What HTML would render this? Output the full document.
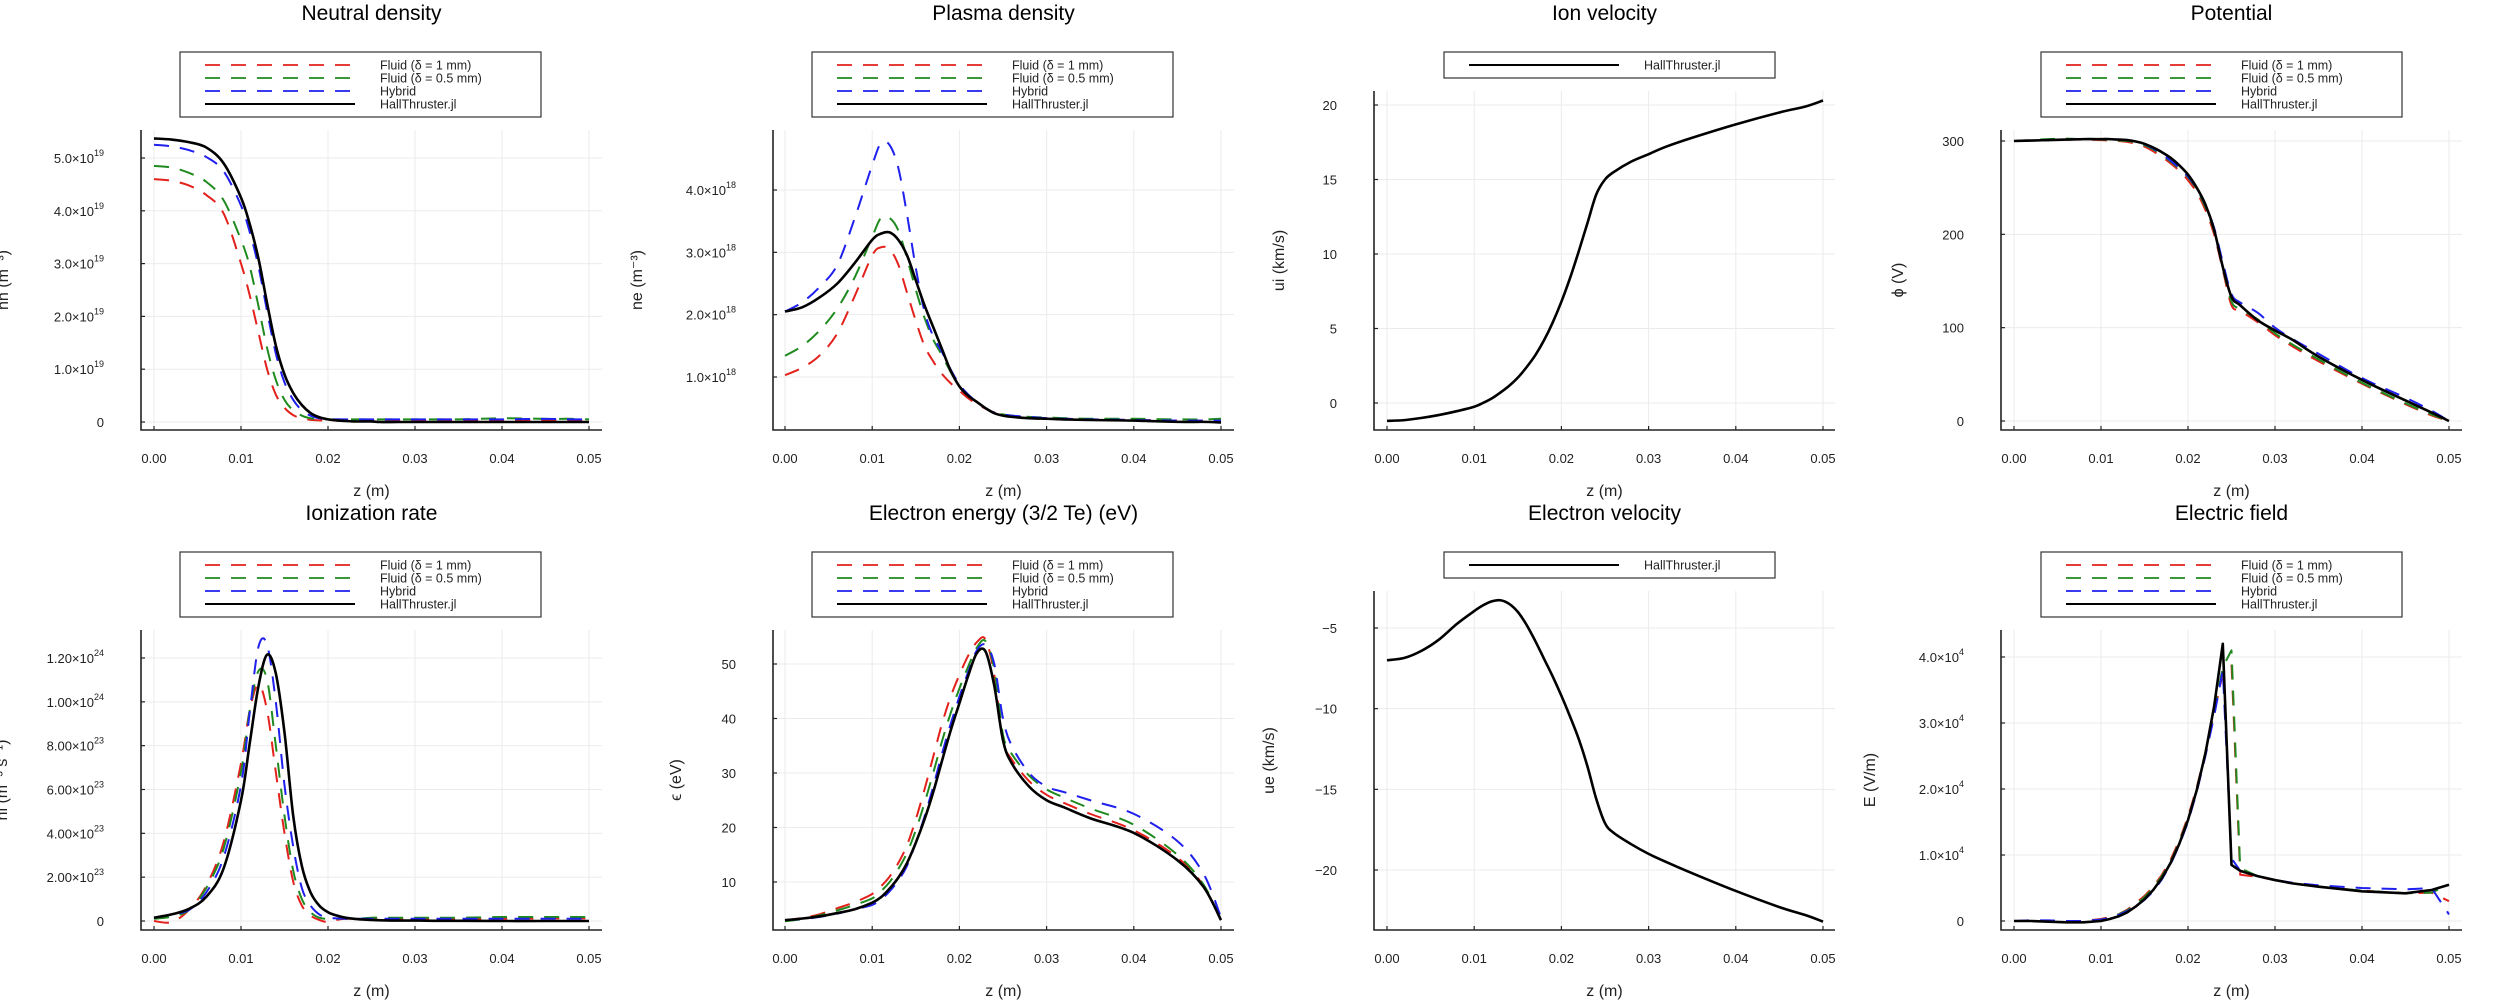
<!DOCTYPE html>
<html><head><meta charset="utf-8"><style>
html,body{margin:0;padding:0;background:#fff;}
svg{display:block;font-family:"Liberation Sans","DejaVu Sans",sans-serif;}
</style></head>
<body>
<svg id="fig" width="2500" height="1000" viewBox="0 0 2500 1000" xmlns="http://www.w3.org/2000/svg"></svg>
<script>
// ---- shared data ----
const zGrid = [0,0.002,0.004,0.006,0.008,0.01,0.011,0.012,0.013,0.014,0.015,0.016,0.017,0.018,0.019,0.02,0.021,0.022,0.023,0.024,0.025,0.026,0.028,0.03,0.032,0.035,0.04,0.045,0.048,0.05];
const xTicks = [0,0.01,0.02,0.03,0.04,0.05];
const xTickLabels = ["0.00","0.01","0.02","0.03","0.04","0.05"];
const seriesNames = ["Fluid (δ = 1 mm)","Fluid (δ = 0.5 mm)","Hybrid","HallThruster.jl"];

// Neutral density (x1e19)
const nnRed   = [4.6,4.57,4.48,4.3,3.95,3.0,2.4,1.7,1.0,0.52,0.27,0.13,0.07,0.04,0.03,0.03,0.03,0.03,0.03,0.03,0.03,0.03,0.03,0.03,0.03,0.03,0.03,0.03,0.03,0.03];
const nnGreen = [4.85,4.82,4.72,4.55,4.2,3.45,2.95,2.2,1.4,0.8,0.42,0.22,0.12,0.07,0.05,0.05,0.05,0.05,0.05,0.05,0.05,0.05,0.05,0.05,0.05,0.05,0.07,0.06,0.06,0.05];
const nnBlue  = [5.25,5.22,5.15,5.02,4.75,4.1,3.6,2.95,2.1,1.3,0.75,0.42,0.22,0.12,0.07,0.05,0.05,0.05,0.05,0.05,0.05,0.05,0.05,0.05,0.05,0.05,0.05,0.06,0.05,0.05];
const nnBlack = [5.37,5.35,5.3,5.2,4.9,4.25,3.75,3.1,2.25,1.45,0.9,0.55,0.32,0.17,0.09,0.05,0.03,0.02,0.01,0.01,0.01,0,0,0,0,0,0,0,0,0];
const nnTicks = [0,1,2,3,4,5];
const nnTickLabels = [["0",""],["1.0×10","19"],["2.0×10","19"],["3.0×10","19"],["4.0×10","19"],["5.0×10","19"]];

// Plasma density (x1e18)
const neRed   = [1.03,1.15,1.35,1.7,2.3,2.95,3.08,3.05,2.8,2.35,1.9,1.5,1.25,1.05,0.9,0.78,0.66,0.57,0.49,0.43,0.39,0.37,0.35,0.34,0.33,0.32,0.31,0.3,0.3,0.3];
const neGreen = [1.34,1.5,1.75,2.1,2.6,3.25,3.55,3.55,3.35,2.9,2.4,1.95,1.6,1.35,1.08,0.85,0.7,0.6,0.5,0.43,0.4,0.38,0.36,0.35,0.34,0.33,0.33,0.32,0.32,0.33];
const neBlue  = [2.05,2.2,2.45,2.8,3.55,4.4,4.75,4.72,4.35,3.6,2.75,2.05,1.65,1.4,1.12,0.88,0.72,0.6,0.5,0.43,0.4,0.38,0.36,0.34,0.33,0.32,0.31,0.3,0.3,0.3];
const neBlack = [2.05,2.12,2.28,2.5,2.83,3.2,3.3,3.32,3.2,2.95,2.55,2.15,1.8,1.45,1.1,0.85,0.7,0.6,0.5,0.42,0.38,0.36,0.34,0.33,0.32,0.31,0.3,0.28,0.28,0.27];
const neTicks = [1,2,3,4];
const neTickLabels = [["1.0×10","18"],["2.0×10","18"],["3.0×10","18"],["4.0×10","18"]];

// Ion velocity (km/s)
const uiBlack = [-1.2,-1.15,-1.0,-0.8,-0.55,-0.25,0,0.3,0.7,1.15,1.7,2.4,3.2,4.2,5.4,6.8,8.4,10.2,12.1,14.0,15.0,15.5,16.2,16.7,17.2,17.8,18.7,19.5,19.9,20.3];
const uiTicks = [0,5,10,15,20];
const uiTickLabels = [["0",""],["5",""],["10",""],["15",""],["20",""]];

// Potential (V)
const phiRed   = [300,300.5,301,301.5,301.5,301,300.5,300,299,297,294,289,283,276,268,258,245,226,200,162,124,118,106,92,80,64,40,18,6,0];
const phiGreen = [300,301,302,302.5,302,301.5,301,300.5,300,298.5,295.5,291,285,278,270,261,248,229,203,164,128,120,109,94,82,66,41,19,7,0];
const phiBlue  = [300,300.5,301,301.5,302,302,302,301.5,301,299.5,296.5,292,286,279,271,262,249,231,207,170,136,127,116,100,88,72,46,25,11,0];
const phiBlack = [300,300.5,301,301.5,302,302,302,301.5,301,299.5,297,293,288,282,274,264,250,232,205,165,133,124,108,97,87,69,44,22,9,0];
const phiTicks = [0,100,200,300];
const phiTickLabels = [["0",""],["100",""],["200",""],["300",""]];

// Ionization rate (x1e23)
const izRed   = [0.0,-0.05,0.5,1.6,3.6,7.2,9.6,10.8,9.6,6.8,4.0,1.8,0.7,0.25,0.05,-0.05,0.05,0.1,0.1,0.1,0.1,0.1,0.1,0.1,0.1,0.1,0.1,0.12,0.12,0.12];
const izGreen = [0.1,0.2,0.5,1.5,3.3,6.8,9.6,11.4,11.0,8.0,4.8,2.3,1.0,0.4,0.15,0.1,0.1,0.12,0.12,0.12,0.15,0.15,0.15,0.15,0.15,0.15,0.18,0.18,0.18,0.18];
const izBlue  = [0.15,0.3,0.5,1.3,2.9,6.2,9.5,12.5,12.6,10.0,6.2,3.4,1.5,0.7,0.3,0.15,0.12,0.1,0.1,0.1,0.1,0.1,0.1,0.1,0.1,0.1,0.1,0.1,0.1,0.1];
const izBlack = [0.15,0.3,0.55,1.1,2.4,5.5,8.1,10.7,12.15,11.3,8.6,4.8,2.5,1.3,0.7,0.4,0.25,0.15,0.1,0.07,0.05,0.03,0.02,0.02,0.01,0.01,0,0,0,0];
const izTicks = [0,2,4,6,8,10,12];
const izTickLabels = [["0",""],["2.00×10","23"],["4.00×10","23"],["6.00×10","23"],["8.00×10","23"],["1.00×10","24"],["1.20×10","24"]];

// Electron energy (eV)
const epRed   = [3.0,3.4,4.1,5.2,6.3,7.8,9.2,11.0,13.5,16.8,21.5,27,33,39,44,48,51.5,54,54.5,48,36,32.5,28.5,26,24.5,22.5,19.5,14.5,9.3,3];
const epGreen = [2.8,3.2,3.9,4.8,5.8,7.0,8.3,10.0,12.4,15.4,19.5,24.5,30,35.8,41,45.5,49.5,53,54.2,49,37,33.5,29.5,27,25.5,23.5,20.5,15,9.5,3];
const epBlue  = [3.0,3.2,3.6,4.2,5.0,5.8,6.8,8.3,10.3,13.0,17.2,22.0,27.5,33.5,39,44,48.5,52.5,53.5,50,40,35,30,27.5,26.5,25,22.5,17.5,11.5,3.5];
const epBlack = [3.0,3.3,3.7,4.3,5.0,6.2,7.2,8.8,10.8,13.5,17.2,21.5,26.5,32.2,37.8,42.8,47.8,52.0,52.3,46,36,31.8,27.5,25,23.7,21.7,19,14,9.1,3];
const epTicks = [10,20,30,40,50];
const epTickLabels = [["10",""],["20",""],["30",""],["40",""],["50",""]];

// Electron velocity (km/s)
const ueBlack = [-7.0,-6.85,-6.4,-5.7,-4.75,-3.95,-3.6,-3.35,-3.28,-3.5,-4.0,-4.8,-5.8,-6.9,-8.0,-9.2,-10.5,-11.9,-13.6,-15.6,-17.1,-17.7,-18.4,-19.0,-19.5,-20.2,-21.3,-22.3,-22.8,-23.2];
const ueTicks = [-20,-15,-10,-5];
const ueTickLabels = [["−20",""],["−15",""],["−10",""],["−5",""]];

// Electric field (x1e4 V/m)
const efRed   = [0,0,0,0,0,0.03,0.06,0.1,0.17,0.27,0.38,0.52,0.7,0.93,1.22,1.58,2.02,2.55,3.15,3.75,3.9,0.7,0.67,0.62,0.57,0.52,0.46,0.42,0.43,0.3];
const efGreen = [0,0,0,0,0,0.02,0.05,0.1,0.16,0.25,0.36,0.5,0.68,0.9,1.2,1.55,2.0,2.55,3.15,3.85,4.1,0.8,0.68,0.62,0.57,0.52,0.46,0.42,0.43,0.55];
const efBlue  = [0,0.01,0.01,0,0,0.02,0.05,0.09,0.15,0.22,0.32,0.45,0.63,0.86,1.15,1.5,1.95,2.5,3.1,3.8,0.95,0.76,0.68,0.62,0.58,0.54,0.5,0.48,0.5,0.1];
const efBlack = [0,0,-0.01,-0.02,-0.02,0,0.03,0.07,0.13,0.22,0.33,0.47,0.65,0.88,1.17,1.53,1.98,2.54,3.25,4.2,0.85,0.76,0.68,0.62,0.57,0.52,0.45,0.42,0.47,0.55];
const efTicks = [0,1,2,3,4];
const efTickLabels = [["0",""],["1.0×10","4"],["2.0×10","4"],["3.0×10","4"],["4.0×10","4"]];

// ---- drawing ----
const NS = "http://www.w3.org/2000/svg";
const fig = document.getElementById("fig");
const COLORS = ["#e3211c","#1f8a1f","#1f1fee","#000000"];
function mk(tag, attrs, parent){
  const e = document.createElementNS(NS, tag);
  for (const k in attrs) e.setAttribute(k, attrs[k]);
  (parent||fig).appendChild(e);
  return e;
}
function pathD(pts, smooth){
  let d = "M" + pts[0][0].toFixed(2) + "," + pts[0][1].toFixed(2);
  for (let i=1;i<pts.length;i++){
    if (!smooth){ d += "L" + pts[i][0].toFixed(2) + "," + pts[i][1].toFixed(2); continue; }
    const p0 = pts[Math.max(0,i-2)], p1 = pts[i-1], p2 = pts[i], p3 = pts[Math.min(pts.length-1,i+1)];
    const t = 1/6;
    const c1 = [p1[0]+(p2[0]-p0[0])*t, p1[1]+(p2[1]-p0[1])*t];
    const c2 = [p2[0]-(p3[0]-p1[0])*t, p2[1]-(p3[1]-p1[1])*t];
    d += "C"+c1[0].toFixed(2)+","+c1[1].toFixed(2)+" "+c2[0].toFixed(2)+","+c2[1].toFixed(2)+" "+p2[0].toFixed(2)+","+p2[1].toFixed(2);
  }
  return d;
}

function panel(cfg){
  const g = mk("g", {});
  
  
  const X = z => cfg.x0 + (z - 0) / 0.05 * (cfg.x1 - cfg.x0);
  const Y = v => cfg.ya + (v - cfg.va) / (cfg.vb - cfg.va) * (cfg.yb - cfg.ya);
  const L = cfg.axL, R = cfg.axL + 461, T = cfg.top, B = cfg.oy + 430;
  xTicks.forEach(t => {
    const l = mk("line", {x1:X(t), x2:X(t), y1:T, y2:B, stroke:"#ebebeb", "stroke-width":1}, g);
    
    
  });
  cfg.yTicks.forEach(t => {
    const l = mk("line", {x1:L, x2:R, y1:Y(t), y2:Y(t), stroke:"#ebebeb", "stroke-width":1}, g);
    
    
  });
  cfg.series.forEach((s, i) => {
    const pts = zGrid.map((z, k) => [X(z), Y(s.v[k])]);
    const p = mk("path", {d: pathD(pts, !cfg.linear), fill:"none", stroke:s.c, "stroke-width": s.dash ? 2 : 2.6,
      "stroke-dasharray": s.dash ? "15 11" : "none", "stroke-linejoin":"round"}, g);
    
    
  });
  const ax = mk("path", {d:`M${L},${T}L${L},${B}L${R},${B}`, fill:"none", stroke:"#222", "stroke-width":1.6}, g);
  
  
  xTicks.forEach((t, i) => {
    mk("line", {x1:X(t), x2:X(t), y1:B, y2:B-4, stroke:"#222", "stroke-width":1.2}, g);
    const tx = mk("text", {x:X(t), y:cfg.oy+463, "text-anchor":"middle", "font-size":13, fill:"#222"}, g);
    tx.textContent = xTickLabels[i];
    
    
  });
  cfg.yTicks.forEach((t, i) => {
    mk("line", {x1:L, x2:L+4, y1:Y(t), y2:Y(t), stroke:"#222", "stroke-width":1.2}, g);
    const tx = mk("text", {x:L-37, y:Y(t)+5, "text-anchor":"end", "font-size":13, fill:"#222"}, g);
    
    
    const a = mk("tspan", {}, tx); a.textContent = cfg.yLabels[i][0];
    if (cfg.yLabels[i][1]) { const b = mk("tspan", {"font-size":9, dy:-7}, tx); b.textContent = cfg.yLabels[i][1]; }
  });
  const cx = (L + R) / 2;
  const ti = mk("text", {x:cx, y:cfg.oy+20, "text-anchor":"middle", "font-size":21, fill:"#000"}, g);
  ti.textContent = cfg.title;
  
  
  const xl = mk("text", {x:cx, y:cfg.oy+496, "text-anchor":"middle", "font-size":16, fill:"#222"}, g);
  xl.textContent = "z (m)";
  
  
  const yc = (T + B) / 2;
  const yl = mk("text", {x:cfg.ylx, y:yc, "text-anchor":"middle", "font-size":16, fill:"#222", transform:`rotate(-90 ${cfg.ylx} ${yc})`, dy:6}, g);
  yl.textContent = cfg.ylabel;
  
  
  const lx = cfg.legX, ly = cfg.oy + 52, n = cfg.series.length;
  const lg = mk("g", {}, g);
  
  
  mk("rect", {x:lx, y:ly, width:n>1?361:331, height:n>1?65:26, fill:"#fff", stroke:"#333", "stroke-width":1.2}, lg);
  cfg.series.forEach((s, i) => {
    const ry = ly + 13 + i * 13;
    mk("line", {x1:lx+25, x2:lx+175, y1:ry, y2:ry, stroke:s.c, "stroke-width":s.dash?1.8:2, "stroke-dasharray":s.dash?"15 11":"none"}, lg);
    const t = mk("text", {x:lx+200, y:ry+4.5, "font-size":12.5, fill:"#222"}, lg);
    t.textContent = s.label;
    
    
  });
}

function four(r,gr,b,k){
  return [
    {key:"fluid-1mm", label:seriesNames[0], v:r, c:COLORS[0], dash:true},
    {key:"fluid-0-5mm", label:seriesNames[1], v:gr, c:COLORS[1], dash:true},
    {key:"hybrid", label:seriesNames[2], v:b, c:COLORS[2], dash:true},
    {key:"hallthruster", label:seriesNames[3], v:k, c:COLORS[3], dash:false}];
}
function one(k){ return [{key:"hallthruster", label:seriesNames[3], v:k, c:COLORS[3], dash:false}]; }

panel({name:"neutral-density", title:"Neutral density", ylabel:"nn (m⁻³)", ylx:2, oy:0, top:130,
  axL:141, x0:154, x1:589, ya:422, va:0, yb:158, vb:5, yTicks:nnTicks, yLabels:nnTickLabels, legX:180,
  series:four(nnRed,nnGreen,nnBlue,nnBlack)});
panel({name:"plasma-density", title:"Plasma density", ylabel:"ne (m⁻³)", ylx:636, oy:0, top:130,
  axL:773, x0:785, x1:1221, ya:377, va:1, yb:190, vb:4, yTicks:neTicks, yLabels:neTickLabels, legX:812,
  series:four(neRed,neGreen,neBlue,neBlack)});
panel({name:"ion-velocity", title:"Ion velocity", ylabel:"ui (km/s)", ylx:1278, oy:0, top:91,
  axL:1374, x0:1387, x1:1823, ya:403, va:0, yb:105, vb:20, yTicks:uiTicks, yLabels:uiTickLabels, legX:1444,
  series:one(uiBlack)});
panel({name:"potential", title:"Potential", ylabel:"ϕ (V)", ylx:1897, oy:0, top:130,
  axL:2001, x0:2014, x1:2449, ya:421, va:0, yb:141, vb:300, yTicks:phiTicks, yLabels:phiTickLabels, legX:2041,
  series:four(phiRed,phiGreen,phiBlue,phiBlack)});
panel({name:"ionization-rate", title:"Ionization rate", ylabel:"ṅi (m⁻³ s⁻¹)", ylx:1, oy:500, top:630,
  axL:141, x0:154, x1:589, ya:921, va:0, yb:658, vb:12, yTicks:izTicks, yLabels:izTickLabels, legX:180,
  series:four(izRed,izGreen,izBlue,izBlack)});
panel({name:"electron-energy", title:"Electron energy (3/2 Te) (eV)", ylabel:"ϵ (eV)", ylx:675, oy:500, top:630,
  axL:773, x0:785, x1:1221, ya:882, va:10, yb:664, vb:50, yTicks:epTicks, yLabels:epTickLabels, legX:812,
  series:four(epRed,epGreen,epBlue,epBlack)});
panel({name:"electron-velocity", title:"Electron velocity", ylabel:"ue (km/s)", ylx:1268, oy:500, top:591,
  axL:1374, x0:1387, x1:1823, ya:628, va:-5, yb:870, vb:-20, yTicks:ueTicks, yLabels:ueTickLabels, legX:1444,
  series:one(ueBlack)});
panel({name:"electric-field", title:"Electric field", ylabel:"E (V/m)", ylx:1869, oy:500, top:630, linear:true,
  axL:2001, x0:2014, x1:2449, ya:921, va:0, yb:657, vb:4, yTicks:efTicks, yLabels:efTickLabels, legX:2041,
  series:four(efRed,efGreen,efBlue,efBlack)});
</script>
</body></html>
